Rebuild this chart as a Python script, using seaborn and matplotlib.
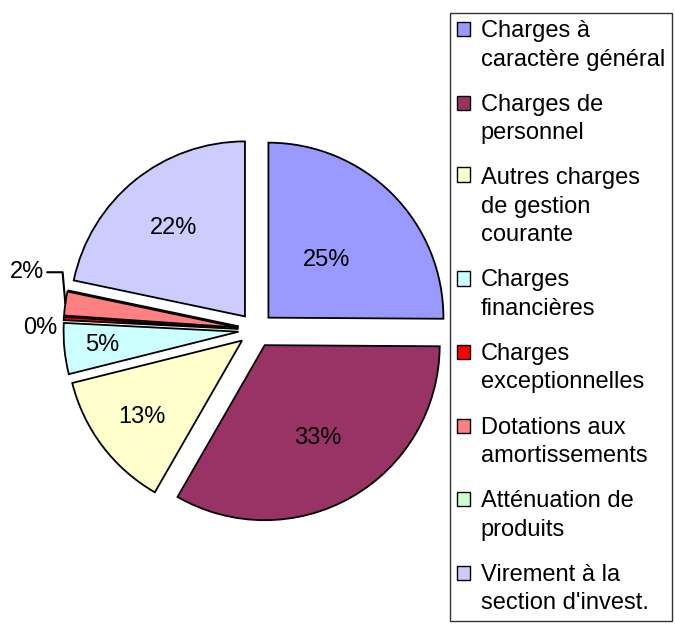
import matplotlib
matplotlib.use('Agg')
import numpy as np
import seaborn as sns
import matplotlib.pyplot as plt
from matplotlib.legend_handler import HandlerPatch
from matplotlib.patches import Rectangle

# budget shares, in %, clockwise from 12 o'clock
categories = ['Charges à\ncaractère général', 'Charges de\npersonnel',
              'Autres charges\nde gestion\ncourante', 'Charges\nfinancières',
              'Charges\nexceptionnelles', 'Dotations aux\namortissements',
              'Atténuation de\nproduits', "Virement à la\nsection d'invest."]
values = [25.1, 33.2, 12.8, 4.7, 0.3, 2.2, 0.0, 21.7]
pct_labels = ['25%', '33%', '13%', '5%', '0%', '2%', '', '22%']
colors = ['#9999FF', '#993366', '#FFFFCC', '#CCFFFF', '#FF0000', '#FF8080', '#CCFFCC', '#CCCCFF']

sns.set_style('white')
plt.rcParams['font.family'] = ['Liberation Sans', 'DejaVu Sans']
plt.rcParams['text.color'] = 'black'
FS = 17
LINESP = 1.38

fig = plt.figure(figsize=(6.75, 6.35), dpi=100)
ax = fig.add_axes([46/675, 95/635, 420/675, 420/635])

wedges, _ = ax.pie(values, explode=[0.1]*len(values), colors=colors, startangle=90,
                   counterclock=False, normalize=True,
                   wedgeprops=dict(edgecolor='black', linewidth=1.3))
ax.set_xlim(-1.2, 1.2)
ax.set_ylim(-1.2, 1.2)
ax.set_aspect('equal')

# label distance from each (exploded) wedge apex, None = placed outside
label_r = [0.47, 0.61, 0.72, 0.78, None, None, None, 0.65]
for w, txt, r in zip(wedges, pct_labels, label_r):
    if r is None:
        continue
    a = np.deg2rad((w.theta1 + w.theta2) / 2)
    cx, cy = w.center
    ax.text(cx + r*np.cos(a), cy + r*np.sin(a), txt, ha='center', va='center', fontsize=FS)

# small slices: outside labels
ax.text(-1.23, 0.01, pct_labels[4], ha='center', va='center', fontsize=FS)
w = wedges[5]
a = np.deg2rad((w.theta1 + w.theta2) / 2)
ax.annotate(pct_labels[5], xy=(w.center[0] + np.cos(a)*1.0, w.center[1] + np.sin(a)*1.0),
            xytext=(-1.31, 0.33), ha='center', va='center', fontsize=FS,
            arrowprops=dict(arrowstyle='-', color='black', lw=1.5,
                            shrinkA=0, shrinkB=0,
                            connectionstyle='angle,angleA=0,angleB=95,rad=0'))

# legend squares sit on the first text line, like Excel does
nlines = {id(w): c.count('\n') + 1 for w, c in zip(wedges, categories)}
line_pt = FS * 1.2 * LINESP * 0.83

def first_line_box(legend, orig_handle, xdescent, ydescent, width, height, fontsize):
    shift = (nlines[id(orig_handle)] - 1) / 2 * line_pt
    return Rectangle((-xdescent, -ydescent + shift), width, height)

leg = fig.legend(wedges, categories, loc='upper left', bbox_to_anchor=(450/675, 1 - 13/635),
                 fontsize=FS, frameon=True, fancybox=False, edgecolor='black',
                 handlelength=0.55, handleheight=0.55, handletextpad=0.45,
                 labelspacing=0.98, borderpad=0.3, borderaxespad=0,
                 handler_map={w: HandlerPatch(patch_func=first_line_box) for w in wedges})
leg.get_frame().set_linewidth(1.0)
for t in leg.get_texts():
    t.set_linespacing(LINESP)
for h in leg.legend_handles:
    h.set_linewidth(1.0)

fig.savefig('out.png', dpi=100)
